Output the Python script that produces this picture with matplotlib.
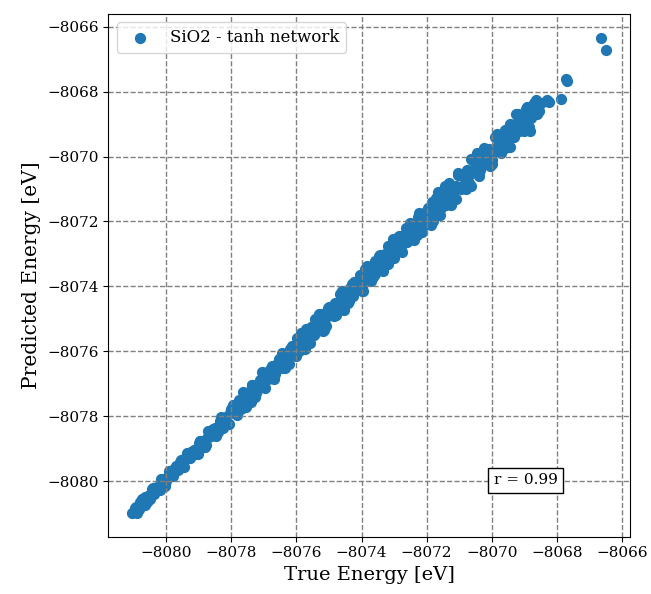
import matplotlib
matplotlib.use("Agg")
import matplotlib.pyplot as plt

plt.rcParams['font.family'] = 'serif'

# true vs predicted energies (eV), first batch
true_energy_a = [
    -8081.05, -8080.98, -8080.92, -8080.85, -8080.78, -8080.72, -8080.65, -8080.58,
    -8080.50, -8080.43, -8080.36, -8080.28, -8080.20, -8080.12, -8080.05, -8079.97,
    -8079.90, -8079.82, -8079.74, -8079.66, -8079.58, -8079.50, -8079.42, -8079.35,
    -8079.27, -8079.19, -8079.11, -8079.03, -8078.95, -8078.87, -8078.79, -8078.71,
    -8078.63, -8078.55, -8078.47, -8078.39, -8078.31, -8078.23, -8078.15, -8078.07,
    -8077.99, -8077.91, -8077.83, -8077.75, -8077.67, -8077.59, -8077.51, -8077.43,
    -8077.35, -8077.27, -8077.19, -8077.11, -8077.03, -8076.95, -8076.87, -8076.79,
    -8076.71, -8076.63, -8076.55, -8076.47, -8076.39, -8076.31, -8076.23, -8076.15,
    -8076.07, -8075.99, -8075.91, -8075.83, -8075.75, -8075.67, -8075.59, -8075.51,
    -8075.43, -8075.35, -8075.27, -8075.19, -8075.11, -8075.03, -8074.95, -8074.87,
    -8074.79, -8074.71, -8074.63, -8074.55, -8074.47, -8074.39, -8074.31, -8074.23,
    -8074.15, -8074.07, -8073.99, -8073.91, -8073.83, -8073.75, -8073.67, -8073.59,
    -8073.51, -8073.43, -8073.35, -8073.27, -8073.19, -8073.11, -8073.03, -8072.95,
    -8072.87, -8072.79, -8072.71, -8072.63, -8072.55, -8072.47, -8072.39, -8072.31,
    -8072.23, -8072.15, -8072.07, -8071.99, -8071.91, -8071.83, -8071.75, -8071.67,
    -8071.59, -8071.51, -8071.43, -8071.35, -8071.27, -8071.19, -8071.11, -8071.03,
    -8070.95, -8070.87, -8070.79, -8070.71, -8070.63, -8070.55, -8070.47, -8070.39,
    -8070.31, -8070.23, -8070.15, -8070.07, -8069.99, -8069.91, -8069.83, -8069.75,
    -8069.67, -8069.59, -8069.51, -8069.43, -8069.35, -8069.27, -8069.19, -8069.11,
    -8069.03, -8068.95, -8068.87, -8068.83, -8068.79, -8068.71, -8068.63, -8068.55,
    -8068.47, -8068.30, -8068.24, -8067.87, -8067.71, -8067.68, -8066.63, -8066.48,
]
pred_energy_a = [
    -8080.97, -8080.95, -8080.80, -8080.87, -8080.68, -8080.70, -8080.50, -8080.63,
    -8080.42, -8080.25, -8080.40, -8080.18, -8080.18, -8079.98, -8080.11, -8079.89,
    -8079.70, -8079.85, -8079.62, -8079.63, -8079.41, -8079.58, -8079.33, -8079.13,
    -8079.29, -8079.06, -8079.07, -8079.15, -8078.77, -8078.81, -8078.89, -8078.47,
    -8078.61, -8078.40, -8078.62, -8078.29, -8078.03, -8078.28, -8078.03, -8078.25,
    -8077.79, -8077.88, -8077.95, -8077.50, -8077.59, -8077.67, -8077.35, -8077.43,
    -8077.05, -8077.41, -8077.09, -8076.89, -8077.09, -8076.81, -8076.85, -8076.53,
    -8076.83, -8076.51, -8076.23, -8076.51, -8076.21, -8076.26, -8076.39, -8075.87,
    -8075.97, -8075.59, -8075.99, -8075.63, -8075.70, -8075.33, -8075.73, -8075.35,
    -8075.01, -8075.33, -8075.03, -8075.37, -8074.99, -8074.67, -8074.89, -8074.61,
    -8074.89, -8074.53, -8074.19, -8074.47, -8074.17, -8074.45, -8074.11, -8073.85,
    -8074.11, -8073.83, -8074.13, -8073.77, -8073.37, -8073.65, -8073.37, -8073.63,
    -8073.29, -8073.03, -8073.33, -8073.01, -8073.31, -8072.95, -8072.55, -8072.87,
    -8072.55, -8072.87, -8072.51, -8072.21, -8072.55, -8072.19, -8072.57, -8072.17,
    -8071.73, -8072.09, -8071.73, -8072.09, -8071.69, -8071.39, -8071.77, -8071.39,
    -8071.79, -8071.39, -8070.91, -8071.31, -8070.95, -8071.33, -8070.91, -8070.57,
    -8070.95, -8070.61, -8071.01, -8070.57, -8070.09, -8070.49, -8070.11, -8070.51,
    -8070.09, -8069.75, -8070.19, -8069.77, -8070.23, -8069.79, -8069.33, -8069.71,
    -8069.33, -8069.75, -8069.31, -8068.99, -8069.41, -8068.99, -8069.21, -8068.81,
    -8068.91, -8068.53, -8068.65, -8069.22, -8068.71, -8068.35, -8068.53, -8068.37,
    -8068.35, -8068.25, -8068.32, -8068.22, -8067.60, -8067.66, -8066.34, -8066.71,
]

# second batch
true_energy_b = [
    -8081.00, -8080.90, -8080.80, -8080.70, -8080.60, -8080.50, -8080.40, -8080.30,
    -8080.20, -8080.10, -8080.00, -8079.90, -8079.80, -8079.70, -8079.60, -8079.50,
    -8079.40, -8079.30, -8079.20, -8079.10, -8079.00, -8078.90, -8078.80, -8078.70,
    -8078.60, -8078.50, -8078.40, -8078.30, -8078.20, -8078.10, -8078.00, -8077.90,
    -8077.80, -8077.70, -8077.60, -8077.50, -8077.40, -8077.30, -8077.20, -8077.10,
    -8077.00, -8076.90, -8076.80, -8076.70, -8076.60, -8076.50, -8076.40, -8076.30,
    -8076.20, -8076.10, -8076.00, -8075.90, -8075.80, -8075.70, -8075.60, -8075.50,
    -8075.40, -8075.30, -8075.20, -8075.10, -8075.00, -8074.90, -8074.80, -8074.70,
    -8074.60, -8074.50, -8074.40, -8074.30, -8074.20, -8074.10, -8074.00, -8073.90,
    -8073.80, -8073.70, -8073.60, -8073.50, -8073.40, -8073.30, -8073.20, -8073.10,
    -8073.00, -8072.90, -8072.80, -8072.70, -8072.60, -8072.50, -8072.40, -8072.30,
    -8072.20, -8072.10, -8072.00, -8071.90, -8071.80, -8071.70, -8071.60, -8071.50,
    -8071.40, -8071.30, -8071.20, -8071.10, -8071.00, -8070.90, -8070.80, -8070.70,
    -8070.60, -8070.50, -8070.40, -8070.30, -8070.20, -8070.10, -8070.00, -8069.90,
    -8069.80, -8069.70, -8069.60, -8069.50, -8069.40, -8069.30, -8069.20, -8069.10,
    -8069.00, -8068.90, -8068.80, -8068.70, -8068.60,
]
pred_energy_b = [
    -8080.95, -8080.98, -8080.65, -8080.70, -8080.50, -8080.55, -8080.22, -8080.25,
    -8080.28, -8079.95, -8080.00, -8079.80, -8079.85, -8079.52, -8079.55, -8079.58,
    -8079.25, -8079.30, -8079.10, -8079.15, -8078.82, -8078.85, -8078.95, -8078.48,
    -8078.58, -8078.36, -8078.48, -8078.04, -8078.15, -8078.25, -8077.78, -8077.88,
    -8077.66, -8077.78, -8077.34, -8077.45, -8077.55, -8077.08, -8077.18, -8076.96,
    -8077.08, -8076.64, -8076.75, -8076.85, -8076.38, -8076.48, -8076.26, -8076.38,
    -8075.94, -8076.05, -8076.15, -8075.75, -8075.92, -8075.32, -8075.55, -8075.22,
    -8075.42, -8074.85, -8075.05, -8075.22, -8074.62, -8074.85, -8074.52, -8074.72,
    -8074.15, -8074.35, -8074.52, -8073.92, -8074.15, -8073.82, -8074.02, -8073.45,
    -8073.65, -8073.82, -8073.22, -8073.45, -8073.12, -8073.32, -8072.75, -8072.95,
    -8073.12, -8072.52, -8072.75, -8072.42, -8072.62, -8072.05, -8072.25, -8072.42,
    -8071.82, -8072.05, -8071.72, -8071.75, -8072.00, -8071.28, -8071.60, -8071.20,
    -8071.50, -8070.80, -8071.05, -8071.30, -8070.58, -8070.90, -8070.50, -8070.80,
    -8070.10, -8070.35, -8070.60, -8069.88, -8070.20, -8069.80, -8070.10, -8069.40,
    -8069.65, -8069.90, -8069.18, -8069.50, -8069.10, -8069.40, -8068.70, -8068.95,
    -8069.20, -8068.48, -8068.80, -8068.40, -8068.70,
]

# third batch
true_energy_c = [
    -8080.95, -8080.85, -8080.75, -8080.65, -8080.55, -8080.45, -8080.35, -8080.25,
    -8080.15, -8080.05, -8079.95, -8079.85, -8079.75, -8079.65, -8079.55, -8079.45,
    -8079.35, -8079.25, -8079.15, -8079.05, -8078.95, -8078.85, -8078.75, -8078.65,
    -8078.55, -8078.45, -8078.35, -8078.25, -8078.15, -8078.05, -8077.95, -8077.85,
    -8077.75, -8077.65, -8077.55, -8077.45, -8077.35, -8077.25, -8077.15, -8077.05,
    -8076.95, -8076.85, -8076.75, -8076.65, -8076.55, -8076.45, -8076.35, -8076.25,
    -8076.15, -8076.05, -8075.95, -8075.85, -8075.75, -8075.65, -8075.55, -8075.45,
    -8075.35, -8075.25, -8075.15, -8075.05, -8074.95, -8074.85, -8074.75, -8074.65,
    -8074.55, -8074.45, -8074.35, -8074.25, -8074.15, -8074.05, -8073.95, -8073.85,
    -8073.75, -8073.65, -8073.55, -8073.45, -8073.35, -8073.25, -8073.15, -8073.05,
    -8072.95, -8072.85, -8072.75, -8072.65, -8072.55, -8072.45, -8072.35, -8072.25,
    -8072.15, -8072.05, -8071.95, -8071.85, -8071.75, -8071.65, -8071.55, -8071.45,
    -8071.35, -8071.25, -8071.15, -8071.05, -8070.95, -8070.85, -8070.75, -8070.65,
    -8070.55, -8070.45, -8070.35, -8070.25, -8070.15, -8070.05, -8069.95, -8069.85,
    -8069.75, -8069.65, -8069.55, -8069.45, -8069.35, -8069.25, -8069.15, -8069.05,
    -8068.95, -8068.85, -8068.75, -8068.65, -8068.55,
]
pred_energy_c = [
    -8080.83, -8080.87, -8080.55, -8080.75, -8080.47, -8080.29, -8080.23, -8080.27,
    -8079.95, -8080.15, -8079.87, -8079.69, -8079.63, -8079.67, -8079.35, -8079.55,
    -8079.27, -8079.09, -8079.03, -8079.07, -8078.75, -8078.95, -8078.67, -8078.49,
    -8078.43, -8078.47, -8078.15, -8078.35, -8078.07, -8077.89, -8077.65, -8077.90,
    -8077.65, -8077.25, -8077.73, -8077.25, -8077.05, -8077.30, -8077.05, -8076.65,
    -8077.13, -8076.65, -8076.45, -8076.70, -8076.45, -8076.05, -8076.53, -8076.05,
    -8075.85, -8076.10, -8075.85, -8075.45, -8075.93, -8075.45, -8075.25, -8075.50,
    -8075.25, -8074.85, -8075.33, -8074.85, -8074.65, -8074.90, -8074.65, -8074.25,
    -8074.73, -8074.25, -8074.05, -8074.30, -8074.05, -8073.65, -8074.13, -8073.65,
    -8073.45, -8073.70, -8073.45, -8073.05, -8073.53, -8073.05, -8072.85, -8073.10,
    -8072.85, -8072.45, -8072.93, -8072.45, -8072.25, -8072.50, -8072.25, -8071.85,
    -8072.33, -8071.85, -8071.60, -8072.10, -8071.65, -8071.10, -8071.60, -8071.20,
    -8071.00, -8071.50, -8071.05, -8070.50, -8071.00, -8070.60, -8070.40, -8070.90,
    -8070.45, -8069.90, -8070.40, -8070.00, -8069.80, -8070.30, -8069.85, -8069.30,
    -8069.80, -8069.40, -8069.20, -8069.70, -8069.25, -8068.70, -8069.20, -8068.80,
    -8068.60, -8069.10, -8068.65, -8068.25, -8068.60,
]
r_value = 0.99

true_energy = true_energy_a + true_energy_b + true_energy_c
pred_energy = pred_energy_a + pred_energy_b + pred_energy_c

fig, ax = plt.subplots(figsize=(6.51, 5.94), dpi=100)
fig.subplots_adjust(left=0.1664, right=0.9677, top=0.9764, bottom=0.0965)

ax.scatter(true_energy, pred_energy, s=50, label='SiO2 - tanh network')
ax.grid(True, linestyle='--', color='gray', linewidth=1)

ax.set_xticks(range(-8080, -8065, 2))
ax.set_yticks(range(-8080, -8065, 2))
ax.tick_params(labelsize=11)
ax.set_xlabel('True Energy [eV]', fontsize=14)
ax.set_ylabel('Predicted Energy [eV]', fontsize=14.5)
ax.legend(loc='upper left', fontsize=12)

ax.text(0.8, 0.1, 'r = %.2f' % r_value, transform=ax.transAxes, ha='center',
        fontsize=11, bbox=dict(facecolor='white', edgecolor='black'))

plt.savefig('out.png')
